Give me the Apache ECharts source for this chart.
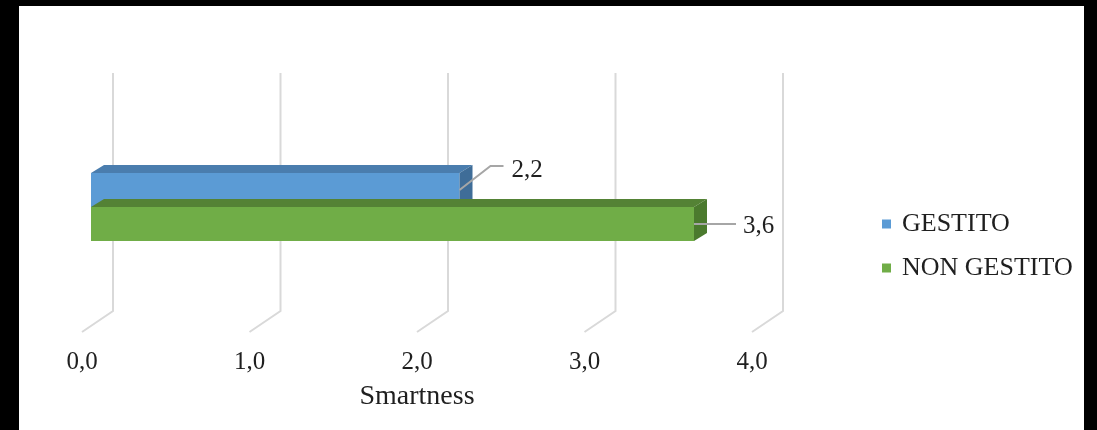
<!DOCTYPE html>
<html>
<head>
<meta charset="utf-8">
<script src="https://cdn.jsdelivr.net/npm/echarts@6/dist/echarts.min.js"></script>
<style>
  html, body { margin: 0; padding: 0; background: #000; }
  #paper { position: absolute; left: 19px; top: 6px; width: 1065px; height: 424px; background: #fff; }
  #main { position: absolute; left: 0; top: 0; width: 1097px; height: 430px; }
</style>
</head>
<body>
<div id="paper"></div>
<div id="main"></div>
<script>
// Chart data
const categories = ['Smartness'];
const seriesNames = ['GESTITO', 'NON GESTITO'];
const gestitoValues = [2.2];
const nonGestitoValues = [3.6];
const xTicks = [0, 1, 2, 3, 4];

// Styling
const FONT = '"Liberation Serif", "Times New Roman", serif';
const TEXT = '#1f1f1f';
const faces = [
  { front: '#5B9BD5', top: '#4A7DAE', side: '#3F6D98' },
  { front: '#70AD47', top: '#548235', side: '#4B7A2E' }
];
const DEPTH = { dx: 13, dy: -8 };          // bar extrusion
const WALL = { dx: 31, dy: -21 };          // floor depth to back wall
// leader lines relative to (bar end, bar middle)
const leaders = [
  { pts: [[0, 0], [31, -24], [44, -24]], label: [52, -20] },
  { pts: [[0, 0], [42, 0]], label: [49, 2] }
];

const fmt = v => v.toFixed(1).replace('.', ',');

function barRenderer(sIdx) {
  return function (params, api) {
    const v = api.value(0);
    const cat = api.value(1);
    const start = api.coord([0, cat]);
    const end = api.coord([v, cat]);
    const band = api.size([0, 1])[1];
    const h = band / 2;
    const y0 = start[1] - band / 2 + sIdx * h;
    const y1 = y0 + h;
    const x0 = start[0], x1 = end[0];
    const f = faces[sIdx];
    const L = leaders[sIdx];
    const ym = (y0 + y1) / 2;
    return {
      type: 'group',
      children: [
        { type: 'rect', shape: { x: x0, y: y0, width: x1 - x0, height: h }, style: { fill: f.front } },
        { type: 'polygon', shape: { points: [[x0, y0], [x0 + DEPTH.dx, y0 + DEPTH.dy], [x1 + DEPTH.dx, y0 + DEPTH.dy], [x1, y0]] }, style: { fill: f.top } },
        { type: 'polygon', shape: { points: [[x1, y0], [x1 + DEPTH.dx, y0 + DEPTH.dy], [x1 + DEPTH.dx, y1 + DEPTH.dy], [x1, y1]] }, style: { fill: f.side } },
        { type: 'polyline', shape: { points: L.pts.map(p => [x1 + p[0], ym + p[1]]) }, style: { stroke: '#A6A6A6', lineWidth: 2, fill: null }, z2: 5 },
        { type: 'text', x: x1 + L.label[0], y: ym + L.label[1], style: { text: fmt(v), fill: TEXT, font: '25px ' + FONT, textAlign: 'left', textVerticalAlign: 'middle' }, z2: 6 }
      ]
    };
  };
}

function gridRenderer(params, api) {
  const v = api.value(0);
  const front = api.coord([v, 0]);
  const top = api.coord([v, 1]);
  const bx = front[0] + WALL.dx;
  const by = front[1] + WALL.dy;
  return {
    type: 'polyline',
    shape: { points: [[bx, top[1]], [bx, by], [front[0], front[1]]] },
    style: { stroke: '#D9D9D9', lineWidth: 2, fill: null }
  };
}

const chart = echarts.init(document.getElementById('main'), null, { renderer: 'canvas' });
chart.setOption({
  backgroundColor: 'transparent',
  animation: false,
  textStyle: { fontFamily: FONT, color: TEXT },
  legend: {
    orient: 'vertical',
    left: 882,
    top: 210,
    padding: 0,
    itemWidth: 9,
    itemHeight: 9,
    itemGap: 16,
    icon: 'rect',
    data: seriesNames,
    textStyle: { fontFamily: FONT, fontSize: 26, lineHeight: 28, color: TEXT, padding: [0, 0, 0, 6] }
  },
  grid: [
    { left: 91, top: 173, width: 670, height: 68 },
    { left: 82, top: 73, width: 670, height: 259 }
  ],
  xAxis: [
    { type: 'value', gridIndex: 0, min: 0, max: 4, interval: 1, show: false },
    {
      type: 'value', gridIndex: 1, min: 0, max: 4, interval: 1,
      axisLine: { show: false }, axisTick: { show: false }, splitLine: { show: false },
      axisLabel: { formatter: fmt, fontFamily: FONT, fontSize: 25, color: TEXT, margin: 18 },
      name: categories[0], nameLocation: 'middle', nameGap: 51,
      nameTextStyle: { fontFamily: FONT, fontSize: 28, color: TEXT }
    }
  ],
  yAxis: [
    { type: 'category', gridIndex: 0, data: categories, show: false },
    { type: 'value', gridIndex: 1, min: 0, max: 1, show: false }
  ],
  series: [
    {
      type: 'custom', name: 'walls', xAxisIndex: 1, yAxisIndex: 1, silent: true,
      data: xTicks.map(t => [t, 0]), renderItem: gridRenderer, z: 1
    },
    {
      type: 'custom', name: seriesNames[0], xAxisIndex: 0, yAxisIndex: 0,
      itemStyle: { color: faces[0].front },
      data: gestitoValues.map((v, i) => [v, i]), renderItem: barRenderer(0), z: 2
    },
    {
      type: 'custom', name: seriesNames[1], xAxisIndex: 0, yAxisIndex: 0,
      itemStyle: { color: faces[1].front },
      data: nonGestitoValues.map((v, i) => [v, i]), renderItem: barRenderer(1), z: 3
    }
  ]
});
</script>
</body>
</html>
